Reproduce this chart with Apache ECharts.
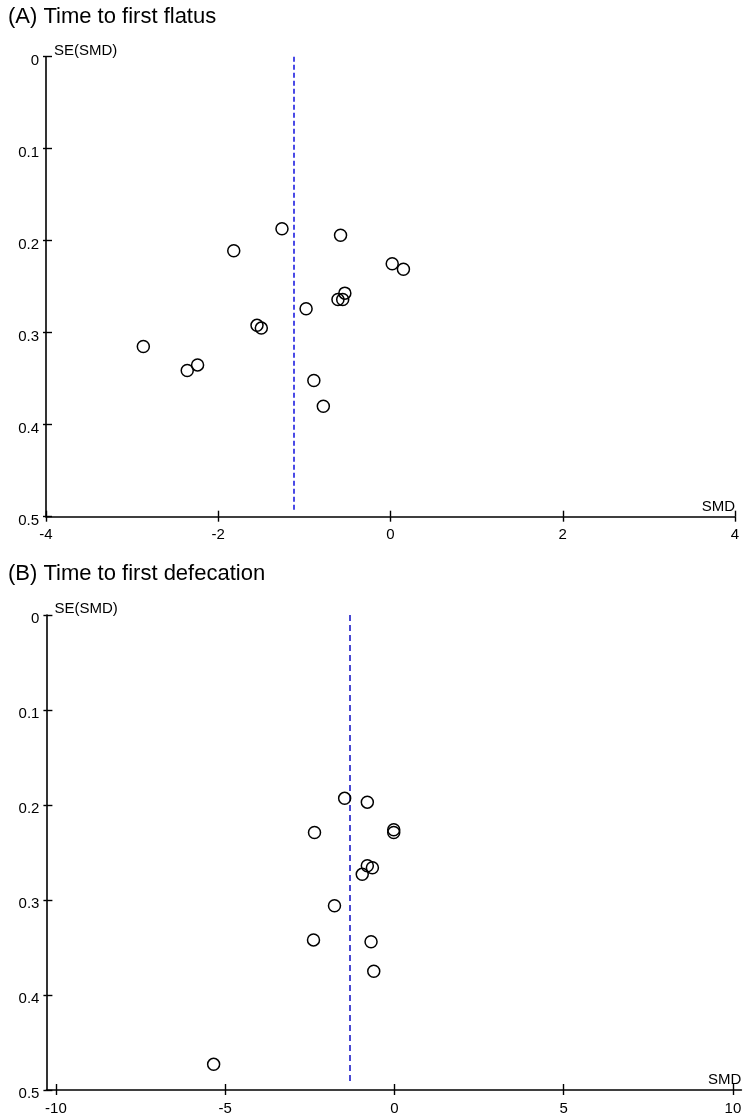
<!DOCTYPE html>
<html>
<head>
<meta charset="utf-8">
<script src="https://cdn.jsdelivr.net/npm/echarts@6/dist/echarts.min.js"></script>
<style>
html,body{margin:0;padding:0;background:#fff;}
#chart{width:750px;height:1119px;}
</style>
</head>
<body>
<div id="chart"></div>
<script>
// Panel A: Time to first flatus
const smdA = [-1.26, -0.58, -1.82, 0.02, 0.15, -0.53, -0.61, -0.555, -0.98, -1.55, -1.50, -2.87, -2.24, -2.36, -0.89, -0.78];
const seA  = [0.187, 0.194, 0.211, 0.225, 0.231, 0.257, 0.264, 0.264, 0.274, 0.292, 0.295, 0.315, 0.335, 0.341, 0.352, 0.380];
const pooledA = -1.12;
// Panel B: Time to first defecation
const smdB = [-1.47, -0.80, -2.36, -0.02, -0.02, -0.80, -0.65, -0.95, -1.77, -2.39, -0.69, -0.61, -5.34];
const seB  = [0.193, 0.197, 0.229, 0.226, 0.229, 0.264, 0.266, 0.273, 0.306, 0.342, 0.344, 0.375, 0.473];
const pooledB = -1.31;

const titles = ['(A) Time to first flatus', '(B) Time to first defecation'];
const yTicks = [0, 0.1, 0.2, 0.3, 0.4, 0.5];
const xTicksA = [-4, -2, 0, 2, 4];
const xTicksB = [-10, -5, 0, 5, 10];
const xRangeA = [-4, 4];
const xRangeB = [-10.28, 10.25];
const seRange = [0, 0.5];
const dashEnd = 0.493;

const FONT = '"Liberation Sans", Arial, Helvetica, sans-serif';
const chart = echarts.init(document.getElementById('chart'), null, {renderer: 'canvas'});

function xAxes(gi, range, ticks) {
  return [{
    gridIndex: gi, type: 'value', position: 'bottom',
    min: range[0], max: range[1],
    name: 'SMD', nameLocation: 'end', nameGap: 0,
    nameTextStyle: {fontFamily: FONT, fontSize: 15, color: '#000', align: 'right', verticalAlign: 'bottom', lineHeight: 16, padding: [0, 0, 2, 0]},
    axisLine: {show: true, onZero: false, lineStyle: {color: '#000', width: 1.6}},
    axisTick: {show: true, inside: false, length: 5, customValues: ticks, lineStyle: {color: '#000', width: 1.4}},
    axisLabel: {show: true, customValues: ticks, margin: 11, fontFamily: FONT, fontSize: 15, color: '#000'},
    splitLine: {show: false}
  }, {
    gridIndex: gi, type: 'value', position: 'bottom',
    min: range[0], max: range[1],
    axisLine: {show: false, onZero: false},
    axisTick: {show: true, inside: true, length: 6, customValues: ticks, lineStyle: {color: '#000', width: 1.4}},
    axisLabel: {show: false},
    splitLine: {show: false}
  }];
}
function yAxes(gi) {
  return [{
    gridIndex: gi, type: 'value', position: 'left', inverse: true,
    min: seRange[0], max: seRange[1],
    name: 'SE(SMD)', nameLocation: 'start', nameGap: 0,
    nameTextStyle: {fontFamily: FONT, fontSize: 15, color: '#000', align: 'left', verticalAlign: 'bottom', lineHeight: 12, padding: [0, 0, 0, 8]},
    axisLine: {show: true, onZero: false, lineStyle: {color: '#000', width: 1.6}},
    axisTick: {show: true, inside: false, length: 3, customValues: yTicks, lineStyle: {color: '#000', width: 1.4}},
    axisLabel: {show: true, customValues: yTicks, margin: 7, fontFamily: FONT, fontSize: 15, color: '#000', verticalAlign: 'top', lineHeight: 8},
    splitLine: {show: false}
  }, {
    gridIndex: gi, type: 'value', position: 'left', inverse: true,
    min: seRange[0], max: seRange[1],
    axisLine: {show: false, onZero: false},
    axisTick: {show: true, inside: true, length: 6, customValues: yTicks, lineStyle: {color: '#000', width: 1.4}},
    axisLabel: {show: false},
    splitLine: {show: false}
  }];
}
function scatter(gi, xs, ys, pooled, dashColor, dashType, dashWidth) {
  return {
    type: 'scatter', xAxisIndex: gi * 2, yAxisIndex: gi * 2,
    data: xs.map((v, i) => [v, ys[i]]),
    symbol: 'circle', symbolSize: 12,
    itemStyle: {color: 'rgba(0,0,0,0)', borderColor: '#000', borderWidth: 1.5, opacity: 1},
    emphasis: {disabled: true},
    markLine: {
      silent: true, symbol: 'none', animation: false,
      label: {show: false},
      lineStyle: {color: dashColor, type: dashType, width: dashWidth},
      data: [[{coord: [pooled, seRange[0]]}, {coord: [pooled, dashEnd]}]]
    },
    z: 5
  };
}

const option = {
  backgroundColor: '#fff',
  animation: false,
  title: [
    {text: titles[0], left: 8, top: 6, padding: 0, textStyle: {fontFamily: FONT, fontSize: 22, fontWeight: 'normal', color: '#000', lineHeight: 22}},
    {text: titles[1], left: 8, top: 563, padding: 0, textStyle: {fontFamily: FONT, fontSize: 22, fontWeight: 'normal', color: '#000', lineHeight: 22}}
  ],
  grid: [
    {left: 46, width: 689, top: 56.7, height: 460, containLabel: false},
    {left: 46.4, width: 695, top: 615, height: 475, containLabel: false}
  ],
  xAxis: [].concat(xAxes(0, xRangeA, xTicksA), xAxes(1, xRangeB, xTicksB)),
  yAxis: [].concat(yAxes(0), yAxes(1)),
  series: [
    scatter(0, smdA, seA, pooledA, '#4a4ae6', [5, 3], 2),
    scatter(1, smdB, seB, pooledB, '#1c1cc8', [6, 4], 1.6)
  ]
};
chart.setOption(option);
</script>
</body>
</html>
